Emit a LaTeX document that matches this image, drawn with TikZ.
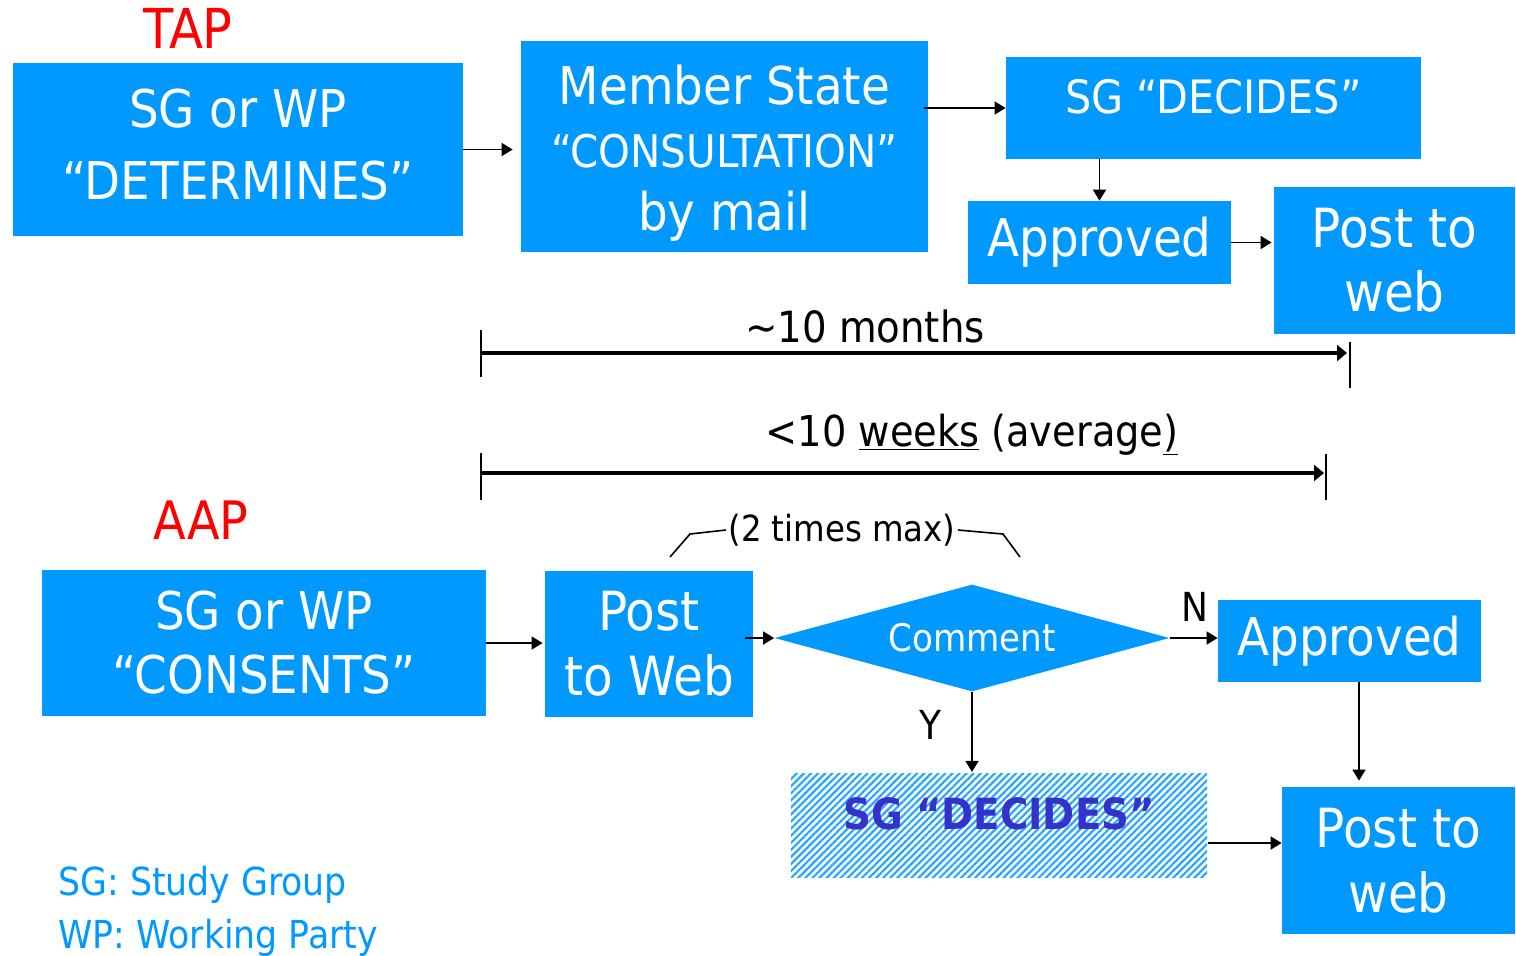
\documentclass[tikz,border=0pt]{standalone}
\usepackage{fontspec}
\setmainfont{DejaVu Sans Condensed}
\usetikzlibrary{arrows.meta,shapes.geometric,patterns.meta}
\definecolor{boxblue}{RGB}{0,153,255}
\definecolor{darkblue}{RGB}{51,51,204}
\newcommand{\shiftink}[2]{\raisebox{#1}[\height][\depth]{#2}}
\begin{document}
\begin{tikzpicture}[x=0.5pt,y=-0.5pt,
  box/.style={fill=boxblue, text=white, inner sep=0pt, align=center},
  arr/.style={-{Triangle[length=5.5pt,width=6.5pt]}, line width=0.9pt},
  timearr/.style={-{Triangle[length=5pt,width=8pt]}, line width=2pt},
  tick/.style={line width=1pt}]
\useasboundingbox (0,0) rectangle (1516,955);

% TAP
\node[text=red, font=\fontsize{27.5}{27}\selectfont] (tap) at (188,28) {TAP};
\node[box, minimum width=225pt, minimum height=86.5pt,
  font=\fontsize{26}{36}\selectfont] (b1) at (238,149.5)
  {\begin{tabular}{@{}c@{}}SG or WP\\“DETERMINES”\end{tabular}};
\node[box, minimum width=203.5pt, minimum height=105.5pt,
  font=\fontsize{26}{31.5}\selectfont] (b2) at (724.5,146.5)
  {\shiftink{-4pt}{\begin{tabular}{@{}c@{}}Member State\\{\fontsize{22.5}{31}\selectfont “CONSULTATION”}\\by mail\end{tabular}}};
\node[box, minimum width=207.5pt, minimum height=51pt,
  font=\fontsize{23}{30}\selectfont] (b3) at (1213.5,108)
  {\shiftink{5.5pt}{SG “DECIDES”}};
\node[box, minimum width=131.5pt, minimum height=41.5pt,
  font=\fontsize{26}{32}\selectfont] (b4) at (1099.5,242.5)
  {Approved};
\node[box, minimum width=120.5pt, minimum height=73.5pt,
  font=\fontsize{27}{32}\selectfont] (b5) at (1394.5,260.5)
  {Post to\\web};

\draw[arr] (b1.east) -- ([xshift=-4pt]b1.east -| b2.west);
\draw[arr] ([xshift=-2pt]b2.east |- b3.west) -- (b3.west);
\draw[arr] (b3.south -| b4.north) -- (b4.north);
\draw[arr] (b4.east) -- ([xshift=-1pt]b4.east -| b5.west);

% timelines
\node[font=\fontsize{21.5}{22}\selectfont] (m10) at (865,326) {\textasciitilde10 months};
\draw[tick] (481,330) -- (481,377);
\draw[tick] (1350,342) -- (1350,388);
\draw[timearr] (481,353) -- (1347,353);

\node[font=\fontsize{21.3}{22}\selectfont] (w10) at (972,435) {<10 \underline{weeks} (average\underline{)}};
\draw[tick] (481,453) -- (481,500);
\draw[tick] (1326,454) -- (1326,500);
\draw[timearr] (481,473) -- (1324,473);

% AAP
\node[text=red, font=\fontsize{26.5}{27}\selectfont] (aap) at (201,520) {AAP};
\node[box, minimum width=222pt, minimum height=73pt,
  font=\fontsize{26}{32}\selectfont] (b6) at (264,643)
  {SG or WP\\“CONSENTS”};
\node[box, minimum width=104pt, minimum height=73pt,
  font=\fontsize{27}{32.5}\selectfont] (b7) at (649,644)
  {Post\\to Web};
\node[diamond, fill=boxblue, text=white, inner sep=0pt, aspect=3.7,
  minimum width=197.5pt, minimum height=53.5pt,
  font=\fontsize{19}{20}\selectfont] (d) at (972,638) {Comment};
\node[box, minimum width=131.5pt, minimum height=41pt,
  font=\fontsize{26}{32}\selectfont] (b8) at (1349.5,641)
  {Approved};
\node[pattern={Lines[angle=45,distance=2.5pt,line width=1.1pt]}, pattern color=boxblue!85,
  inner sep=0pt, minimum width=208pt, minimum height=52pt, text=darkblue,
  font=\fontsize{21.5}{30}\selectfont\bfseries] (h) at (999,825) {\shiftink{5.5pt}{SG “DECIDES”}};
\node[box, minimum width=116.5pt, minimum height=73.5pt,
  font=\fontsize{27}{32.5}\selectfont] (b9) at (1398.5,860.5)
  {Post to\\web};

\node[font=\fontsize{20}{20}\selectfont] (n) at (1195,607) {N};
\node[font=\fontsize{20}{20}\selectfont] (y) at (930,725) {Y};

\node[font=\fontsize{18}{19}\selectfont, inner sep=1pt] (tm) at (842,530) {(2 times max)};
\draw[line width=0.8pt] (670,557) -- (690,534) -- (tm.west);
\draw[line width=0.8pt] (tm.east) -- (1003,534) -- (1020,557);

\draw[arr] (b6.east) -- ([xshift=-1pt]b6.east -| b7.west);
\draw[arr] ([xshift=-4pt]b7.east |- d.west) -- (d.west);
\draw[arr] (d.east) -- (d.east -| b8.west);
\draw[arr] (d.south) -- (d.south |- h.north);
\draw[arr] ([xshift=4.75pt]b8.south) -- ([xshift=4.75pt,yshift=3pt]b8.south |- b9.north);
\draw[arr] ([yshift=-9pt]h.east) -- ([yshift=-9pt]h.east -| b9.west);

% legend
\node[anchor=west, text=boxblue, font=\fontsize{19.3}{22}\selectfont, inner sep=0pt] (lg1) at (58,885) {SG: Study Group};
\node[anchor=west, text=boxblue, font=\fontsize{19.3}{22}\selectfont, inner sep=0pt] (lg2) at (58,938) {WP: Working Party};
\end{tikzpicture}
\end{document}
